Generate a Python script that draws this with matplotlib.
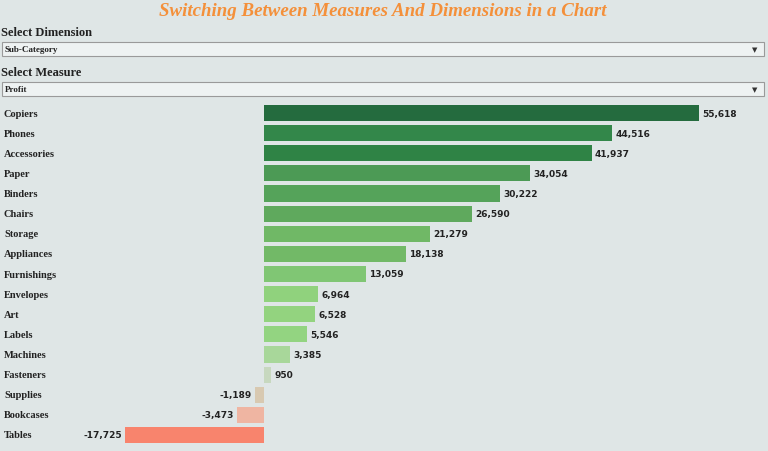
import numpy as np
import matplotlib.pyplot as plt
from matplotlib.patches import Rectangle

categories = ['Copiers', 'Phones', 'Accessories', 'Paper', 'Binders', 'Chairs',
              'Storage', 'Appliances', 'Furnishings', 'Envelopes', 'Art', 'Labels',
              'Machines', 'Fasteners', 'Supplies', 'Bookcases', 'Tables']
profit = [55618, 44516, 41937, 34054, 30222, 26590, 21279, 18138, 13059,
          6964, 6528, 5546, 3385, 950, -1189, -3473, -17725]
colors = ['#246b3e', '#33874a', '#2f8345', '#4c9a55', '#55a35a', '#5fa95d',
          '#70b866', '#72b967', '#80c674', '#90d27d', '#93d37f', '#93d481',
          '#a8d79a', '#c7d8bf', '#d8c9b1', '#efb5a2', '#f8846d']

W, H = 768, 452
BG = '#dfe6e6'
SERIF = 'Liberation Serif'


def fy(py):
    return 1 - py / H


fig = plt.figure(figsize=(W / 100, H / 100), dpi=100)
fig.patch.set_facecolor(BG)

# title and filter controls
fig.text(383 / W, fy(12), 'Switching Between Measures And Dimensions in a Chart',
         ha='center', va='center', color='#f4903a', fontsize=13.6,
         family=SERIF, weight='bold', style='italic')

for label, ly, value, by in [('Select Dimension', 33, 'Sub-Category', 43),
                             ('Select Measure', 73, 'Profit', 83)]:
    fig.text(1 / W, fy(ly), label, ha='left', va='center', fontsize=9,
             family=SERIF, weight='bold', color='#222222')
    fig.add_artist(Rectangle((2 / W, fy(by + 14)), 762 / W, 14 / H,
                             transform=fig.transFigure, facecolor='#eef2f2',
                             edgecolor='#9a9a9a', linewidth=0.8))
    fig.text(5 / W, fy(by + 7), value, ha='left', va='center', fontsize=6.5,
             family=SERIF, weight='bold', color='#222222')
    fig.text(755 / W, fy(by + 7), '▼', ha='center', va='center', fontsize=5,
             color='#333333')

# bar chart: zero line at x=264 px, 55,618 ends at x=699 px
scale = (699 - 264) / profit[0]
ax = fig.add_axes([0, fy(446), 1, (446 - 104) / H])
ax.set_facecolor(BG)
ax.set_xlim(-264 / scale, (W - 264) / scale)
y = np.arange(len(categories))
ax.barh(y, profit, height=0.8, color=colors)
ax.set_ylim(len(categories) - 0.5, -0.5)

for i, (cat, val) in enumerate(zip(categories, profit)):
    ax.text(4 / W, i, cat, transform=ax.get_yaxis_transform(), ha='left',
            va='center', fontsize=7.5, family=SERIF, weight='bold',
            color='#222222')
    off = 3 / scale
    ax.text(val + off if val >= 0 else val - off, i, f'{val:,}',
            ha='left' if val >= 0 else 'right', va='center', fontsize=6.5,
            weight='bold', color='#222222')

ax.axis('off')
fig.savefig('out.png', dpi=100, facecolor=fig.get_facecolor())
